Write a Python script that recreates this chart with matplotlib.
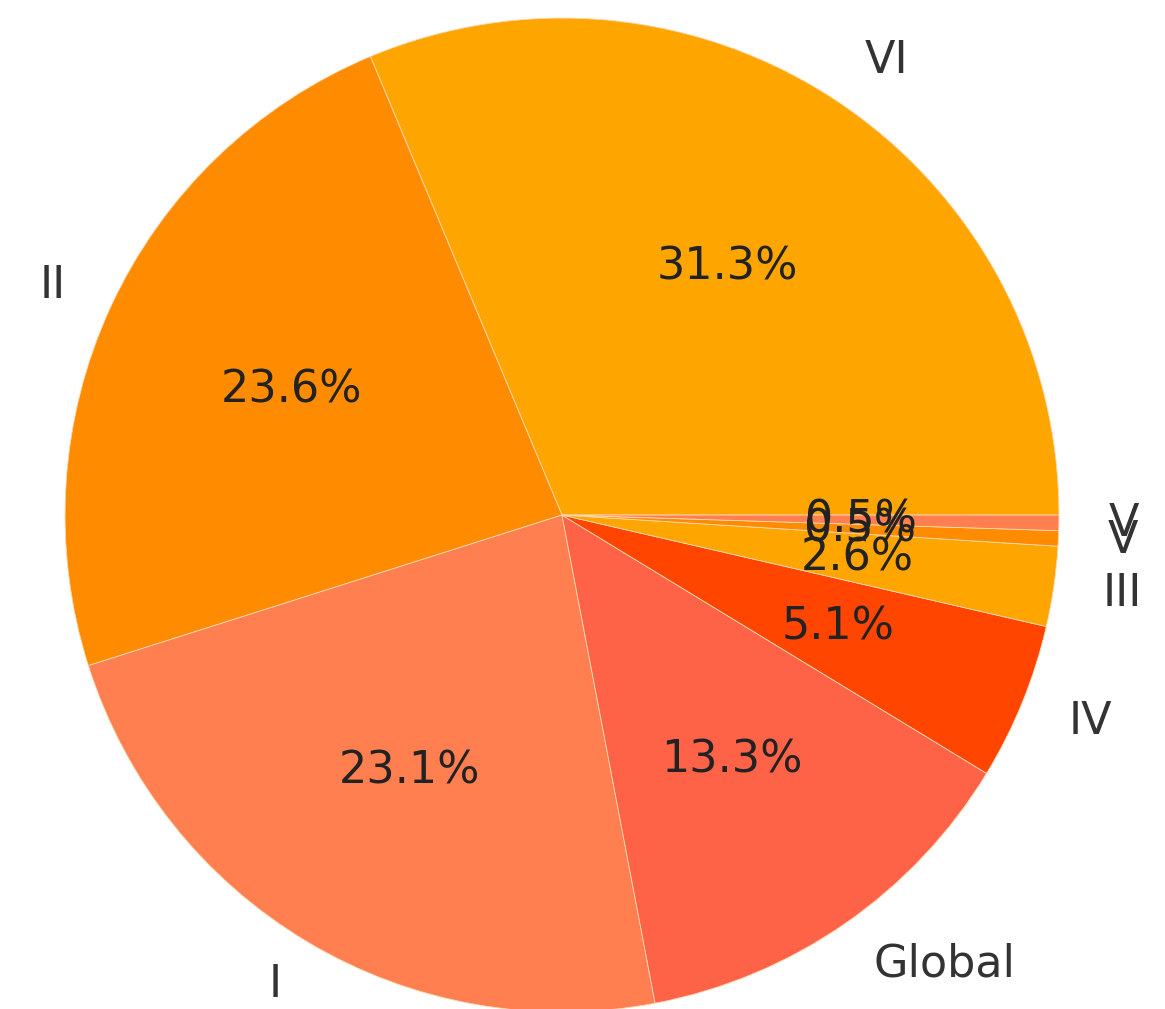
import matplotlib
matplotlib.use("Agg")
import matplotlib.pyplot as plt

# -------------------------------
# Data
# -------------------------------
labels = ["VI", "II", "I", "Global", "IV", "III", "V", "V"]
shares = [31.3, 23.6, 23.1, 13.3, 5.1, 2.6, 0.5, 0.5]
palette = ["#FFA500", "#FF8C00", "#FF7F50", "#FF6347", "#FF4500"]
colors = [palette[i % len(palette)] for i in range(len(shares))]

# -------------------------------
# Plot
# -------------------------------
fig = plt.figure(figsize=(11.65, 10.09), dpi=100)
ax = fig.add_axes([0.0558, -0.003, 0.8532, 0.9851])

wedges, texts, autotexts = ax.pie(
    shares,
    labels=labels,
    colors=colors,
    autopct="%1.1f%%",
    startangle=0,
    counterclock=True,
    wedgeprops={"edgecolor": "#ffd9b0", "linewidth": 0.6},
    textprops={"fontsize": 32},
)
for t in texts:
    t.set_color("#333333")
for t in autotexts:
    t.set_color("#222222")

ax.set_xlim(-1, 1)
ax.set_ylim(-1, 1)
ax.set_aspect("equal")
ax.axis("off")

fig.savefig("out.png", dpi=100)
